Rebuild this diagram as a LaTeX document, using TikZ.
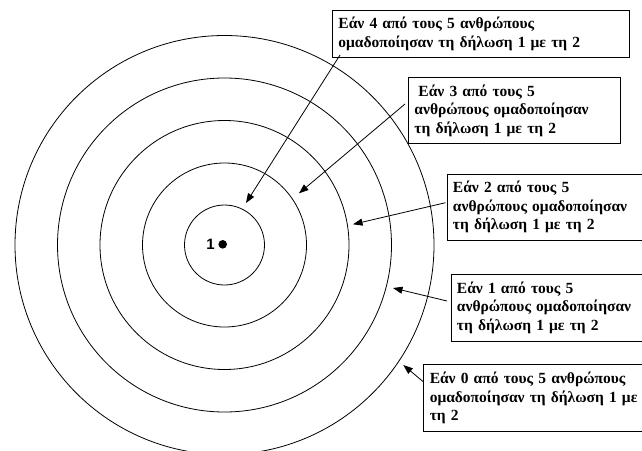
\documentclass[tikz,border=0pt]{standalone}
\usepackage{fontspec}
\setmainfont{Liberation Serif}
\newfontfamily\labelfont{Liberation Sans}
\usetikzlibrary{arrows.meta}

\tikzset{
  ring/.style={draw, circle, line width=0.8pt, inner sep=0pt},
  note/.style={draw, line width=0.9pt, anchor=north west, inner xsep=6pt, inner ysep=0pt,
               align=left, font=\fontsize{15.5}{18.5}\selectfont\bfseries},
  pointer/.style={line width=0.8pt, -{Triangle[length=9.5pt,width=7pt]}}
}

\begin{document}
\begin{tikzpicture}[x=1pt,y=-1pt]
  \useasboundingbox (0,0) rectangle (642,450);

  % concentric rings around the statement point
  \coordinate (c) at (224.5,245);
  \node[ring, minimum size=80pt]  (r1) at (c) {};
  \node[ring, minimum size=164pt] (r2) at (c) {};
  \node[ring, minimum size=249pt] (r3) at (c) {};
  \node[ring, minimum size=334pt] (r4) at (c) {};
  \node[ring, minimum size=419pt] (r5) at (c) {};

  % statement 1 at the centre
  \fill (222.7,244.3) circle[radius=4.3pt];
  \node[font=\labelfont\fontsize{15}{15}\selectfont\bfseries, inner sep=0pt] (one) at (210.5,244.3) {1};

  % explanatory boxes
  \node[note, text width=285pt, minimum height=47pt] (b4) at (332,10)
    {Εάν 4 από τους 5 ανθρώπους\\ομαδοποίησαν τη δήλωση 1 με τη 2};
  \node[note, text width=200pt, minimum height=66pt] (b3) at (408,77)
    {\hspace*{4pt}Εάν 3 από τους 5\\ανθρώπους ομαδοποίησαν\\τη δήλωση 1 με τη 2};
  \node[note, text width=228pt, minimum height=66.5pt] (b2) at (446.5,173.5)
    {Εάν 2 από τους 5\\ανθρώπους ομαδοποίησαν\\τη δήλωση 1 με τη 2};
  \node[note, text width=228pt, minimum height=67.5pt] (b1) at (450.5,273.5)
    {Εάν 1 από τους 5\\ανθρώπους ομαδοποίησαν\\τη δήλωση 1 με τη 2};
  \node[note, text width=228pt, minimum height=67pt] (b0) at (423.3,364)
    {Εάν 0 από τους 5 ανθρώπους\\ομαδοποίησαν τη δήλωση 1 με\\τη 2};

  % pointer ends
  \coordinate (s4) at (340,55);    \coordinate (t4) at (246,203);
  \coordinate (s3) at (405,104);   \coordinate (t3) at (299,193.3);
  \coordinate (s2) at (445.5,202.7); \coordinate (t2) at (353,224.3);
  \coordinate (s1) at (447,301);   \coordinate (t1) at (393,288);
  \coordinate (s0) at (423,381.5); \coordinate (t0) at (403.3,365);

  \draw[pointer] (s4) -- (t4);
  \draw[pointer] (s3) -- (t3);
  \draw[pointer] (s2) -- (t2);
  \draw[pointer] (s1) -- (t1);
  \draw[pointer] (s0) -- (t0);
\end{tikzpicture}
\end{document}
